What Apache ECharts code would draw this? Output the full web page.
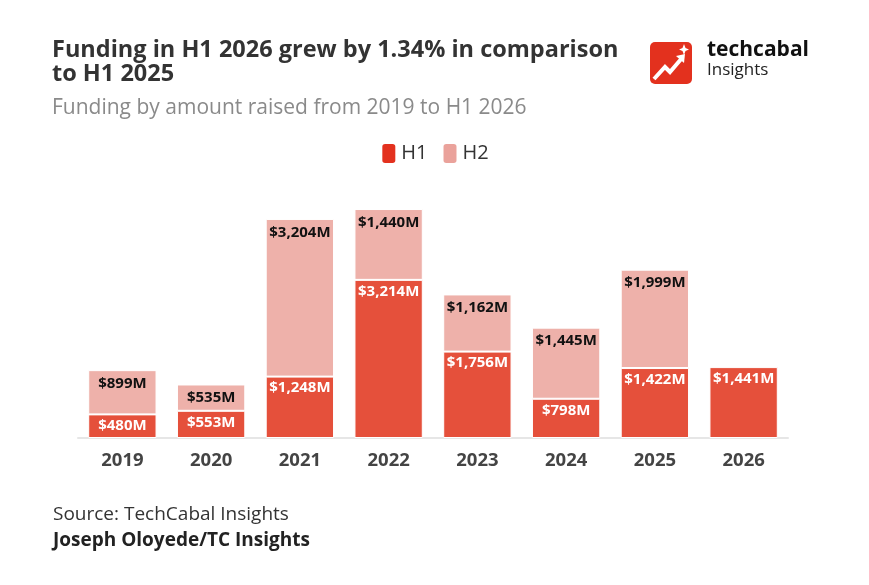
<!DOCTYPE html>
<html>
<head>
<meta charset="utf-8">
<script src="https://cdn.jsdelivr.net/npm/echarts@6/dist/echarts.min.js"></script>
<style>
  html, body { margin: 0; padding: 0; background: #fff; }
  #chart { width: 869px; height: 585px; }
</style>
</head>
<body>
<div id="chart"></div>
<script>
  // data
  let years = ['2019', '2020', '2021', '2022', '2023', '2024', '2025', '2026']
  let h1 = [480, 553, 1248, 3214, 1756, 798, 1422, 1441]
  let h2 = [899, 535, 3204, 1440, 1162, 1445, 1999, null]

  let fmt = v => '$' + Number(v).toLocaleString('en-US') + 'M'

  let chart = echarts.init(document.getElementById('chart'))
  let font = '"Open Sans", "Noto Sans", sans-serif'

  let option = {
    backgroundColor: '#fff',
    textStyle: { fontFamily: font },
    title: [
      {
        text: 'Funding in H1 2026 grew by 1.34% in comparison\nto H1 2025',
        left: 47, top: 33,
        textStyle: { fontSize: 23.5, fontWeight: 'bold', color: '#333', lineHeight: 24, fontFamily: font }
      },
      {
        text: 'Funding by amount raised from 2019 to H1 2026',
        left: 47, top: 93,
        textStyle: { fontSize: 21, fontWeight: 'normal', color: '#8a8a8a', fontFamily: font }
      }
    ],
    legend: {
      top: 137, left: 'center',
      itemWidth: 15, itemHeight: 21, itemGap: 14,
      icon: 'roundRect',
      textStyle: { fontSize: 20, color: '#333', fontFamily: font },
      data: [
        { name: 'H1', itemStyle: { color: '#e3311e' } },
        { name: 'H2', itemStyle: { color: '#eaa29b' } }
      ]
    },
    grid: { left: 78, right: 81, top: 192, bottom: 147 },
    xAxis: {
      type: 'category',
      data: years,
      axisLine: { lineStyle: { color: '#e6e6e6', width: 2 } },
      axisTick: { alignWithLabel: true, length: 9, lineStyle: { color: '#e6e6e6', width: 2 } },
      axisLabel: { fontSize: 18.5, fontWeight: 'bold', color: '#444', margin: 13 }
    },
    yAxis: { type: 'value', min: 0, max: 5000, show: false },
    series: [
      {
        name: 'H1', type: 'bar', stack: 'total', data: h1,
        barCategoryGap: '23%',
        itemStyle: { color: '#e5503b', borderColor: '#fff', borderWidth: 1 },
        label: {
          show: true, position: 'insideTop', distance: 4,
          formatter: p => fmt(p.value),
          color: '#fff', fontSize: 15, fontWeight: 'bold'
        }
      },
      {
        name: 'H2', type: 'bar', stack: 'total', data: h2,
        itemStyle: { color: '#eeb1aa', borderColor: '#fff', borderWidth: 1 },
        label: {
          show: true, position: 'insideTop', distance: 6,
          formatter: p => fmt(p.value),
          color: '#111', fontSize: 15, fontWeight: 'bold'
        }
      }
    ],
    graphic: [
      // logo
      { type: 'rect', shape: { x: 650, y: 42, width: 42, height: 42, r: 5 }, style: { fill: '#e3311e' } },
      { type: 'polyline', shape: { points: [[654, 79], [665, 67], [670, 72], [682, 58]] },
        style: { stroke: '#fff', lineWidth: 4, fill: null } },
      { type: 'polygon', shape: { points: [[676, 56], [685, 54], [684, 63]] }, style: { fill: '#fff' } },
      { type: 'polygon', shape: { points: [[684, 44], [685.5, 48], [689, 49.5], [685.5, 51], [684, 55], [682.5, 51], [679, 49.5], [682.5, 48]] },
        style: { fill: '#fff' } },
      { type: 'text', left: 707, top: 40, style: { text: 'techcabal', font: 'bold 21px ' + font, fill: '#111' } },
      { type: 'text', left: 707, top: 62, style: { text: 'Insights', font: '17px ' + font, fill: '#222' } },
      // source
      { type: 'text', left: 53, top: 505, style: { text: 'Source: TechCabal Insights', font: '19px ' + font, fill: '#333' } },
      { type: 'text', left: 53, top: 531, style: { text: 'Joseph Oloyede/TC Insights', font: 'bold 19px ' + font, fill: '#222' } }
    ]
  }
  chart.setOption(option)
</script>
</body>
</html>
